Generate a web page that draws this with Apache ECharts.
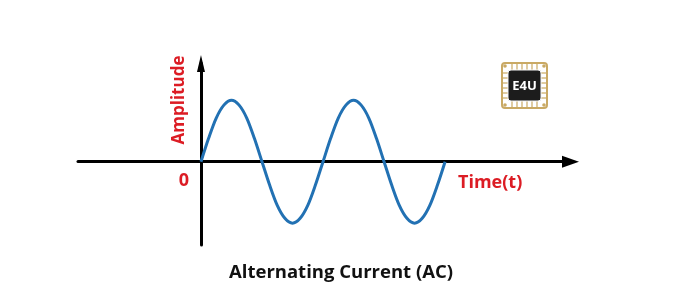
<!DOCTYPE html>
<html>
<head>
<meta charset="utf-8">
<script src="https://cdn.jsdelivr.net/npm/echarts@6/dist/echarts.min.js"></script>
<style>
  html, body { margin: 0; padding: 0; background: #ffffff; }
  #chart { width: 674px; height: 305px; }
</style>
</head>
<body>
<div id="chart"></div>
<script>
// Time in quarter-periods, amplitude normalised to peak = 1
const timeValues = [0, 0.25, 0.5, 0.75, 1, 1.25, 1.5, 1.75, 2, 2.25, 2.5, 2.75, 3, 3.25, 3.5, 3.75, 4,
                    4.25, 4.5, 4.75, 5, 5.25, 5.5, 5.75, 6, 6.25, 6.5, 6.75, 7, 7.25, 7.5, 7.75, 8];
const amplitudeValues = [0, 0.38, 0.71, 0.92, 1, 0.92, 0.71, 0.38, 0, -0.38, -0.71, -0.92, -1, -0.92, -0.71, -0.38, 0,
                         0.38, 0.71, 0.92, 1, 0.92, 0.71, 0.38, 0, -0.38, -0.71, -0.92, -1, -0.92, -0.71, -0.38, 0];
const xAxisName = 'Time(t)';
const yAxisName = 'Amplitude';
const originLabel = '0';
const chartTitle = 'Alternating Current (AC)';

const RED = '#dc1c24';
const FONT = '"Open Sans", "Liberation Sans", sans-serif';

const chart = echarts.init(document.getElementById('chart'), null, { renderer: 'canvas' });

// logo decoration
const gold = '#c9a964';
const logo = [];
logo.push({ type: 'rect', shape: { x: 502, y: 63, width: 45, height: 45, r: 3 },
  style: { fill: 'none', stroke: gold, lineWidth: 2 } });
for (let i = 0; i < 6; i++) {
  const p = 512 + i * 5;
  logo.push({ type: 'line', shape: { x1: p, y1: 63, x2: p, y2: 71 }, style: { stroke: gold, lineWidth: 1.2 } });
  logo.push({ type: 'line', shape: { x1: p, y1: 100, x2: p, y2: 108 }, style: { stroke: gold, lineWidth: 1.2 } });
  const q = 73 + i * 5;
  logo.push({ type: 'line', shape: { x1: 502, y1: q, x2: 509, y2: q }, style: { stroke: gold, lineWidth: 1.2 } });
  logo.push({ type: 'line', shape: { x1: 540, y1: q, x2: 547, y2: q }, style: { stroke: gold, lineWidth: 1.2 } });
}
[[505, 66], [544, 66], [505, 105], [544, 105]].forEach(function (c) {
  logo.push({ type: 'circle', shape: { cx: c[0], cy: c[1], r: 1.8 }, style: { fill: gold } });
});
logo.push({ type: 'rect', shape: { x: 508, y: 70, width: 33, height: 31, r: 3 },
  style: { fill: '#1c1c1c', stroke: '#f4f4f4', lineWidth: 1 } });
logo.push({ type: 'text', x: 524.5, y: 86,
  style: { text: 'E4U', fill: '#ffffff', font: 'bold 13px ' + FONT, textAlign: 'center', textVerticalAlign: 'middle' } });

const option = {
  backgroundColor: '#ffffff',
  animation: false,
  grid: { left: 78, right: 103.5, top: 63.5, bottom: 60, containLabel: false },
  xAxis: {
    type: 'value', min: -4.03, max: 12.11,
    axisLine: { onZero: true, symbol: ['none', 'triangle'], symbolSize: [12, 17],
      lineStyle: { color: '#000000', width: 3 } },
    axisTick: { show: false }, axisLabel: { show: false }, splitLine: { show: false }
  },
  yAxis: {
    type: 'value', min: -1.354, max: 1.597,
    axisLine: { onZero: true, symbol: ['none', 'triangle'], symbolSize: [8, 17],
      lineStyle: { color: '#000000', width: 3 } },
    axisTick: { show: false }, axisLabel: { show: false }, splitLine: { show: false }
  },
  series: [{
    type: 'line',
    data: timeValues.map(function (t, i) { return [t, amplitudeValues[i]]; }),
    smooth: 0.3,
    showSymbol: false,
    lineStyle: { color: '#2271b3', width: 3 },
    z: 1
  }],
  graphic: [
    { type: 'text', x: 179, y: 100, rotation: Math.PI / 2,
      style: { text: yAxisName, fill: RED, font: 'bold 17px ' + FONT, textAlign: 'center', textVerticalAlign: 'middle' } },
    { type: 'text', x: 184, y: 181,
      style: { text: originLabel, fill: RED, font: 'bold 18px ' + FONT, textAlign: 'center', textVerticalAlign: 'middle' } },
    { type: 'text', x: 458, y: 183,
      style: { text: xAxisName, fill: RED, font: 'bold 18px ' + FONT, textAlign: 'left', textVerticalAlign: 'middle' } },
    { type: 'text', x: 341, y: 273,
      style: { text: chartTitle, fill: '#111111', font: 'bold 18.5px ' + FONT, textAlign: 'center', textVerticalAlign: 'middle' } }
  ].concat(logo)
};
chart.setOption(option);
</script>
</body>
</html>
